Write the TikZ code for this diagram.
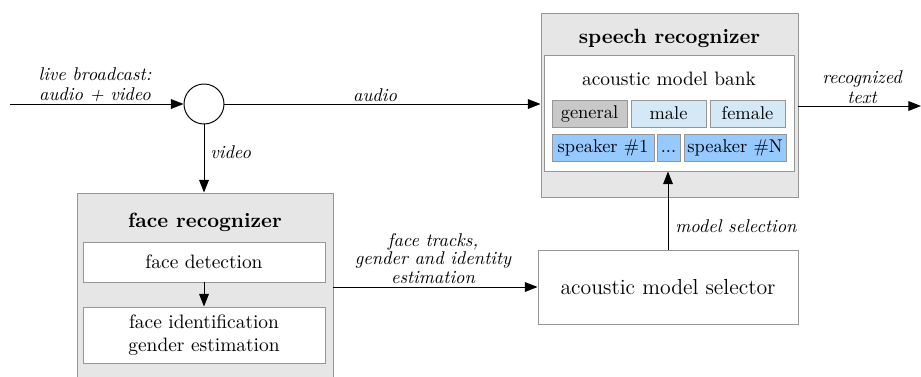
\documentclass[tikz,border=0pt]{standalone}
\usetikzlibrary{arrows.meta}
\definecolor{outerfill}{RGB}{230,230,230}
\definecolor{boxline}{RGB}{150,150,150}
\definecolor{genfill}{RGB}{200,200,200}
\definecolor{lightblue}{RGB}{212,232,245}
\definecolor{spkblue}{RGB}{150,202,255}
\tikzset{
  outerbox/.style={draw=boxline, fill=outerfill, line width=0.5pt, inner sep=0pt},
  innerbox/.style={draw=boxline, fill=white, line width=0.5pt, inner sep=0pt, align=center, font=\fontsize{10}{12}\selectfont},
  modelbox/.style={draw=boxline, line width=0.5pt, inner sep=0pt, font=\fontsize{9.5}{11}\selectfont, minimum height=27*0.515pt},
  titletext/.style={font=\fontsize{10.6}{13}\selectfont\bfseries},
  lbl/.style={font=\fontsize{9.5}{10.3}\selectfont\itshape, align=center, inner sep=0pt},
  conn/.style={-{Triangle[length=6.5pt,width=5pt]}, line width=0.5pt, black},
}
\begin{document}
\begin{tikzpicture}[x=0.515pt, y=-0.515pt]
\useasboundingbox (0,0) rectangle (921,376);
% speech recognizer
\node[outerbox, minimum width=257*0.515pt, minimum height=184*0.515pt] (speech) at (669.5,105) {};
\node[titletext] (speechtitle) at (669.5,38) {speech recognizer};
\node[innerbox, minimum width=250*0.515pt, minimum height=116*0.515pt] (bank) at (669,113) {};
\node[font=\fontsize{10}{12}\selectfont] (banktitle) at (669,79) {acoustic model bank};
\node[modelbox, fill=genfill, minimum width=75*0.515pt] (general) at (589.5,113.5) {general};
\node[modelbox, fill=lightblue, minimum width=75*0.515pt] (male) at (668.5,113.5) {male};
\node[modelbox, fill=lightblue, minimum width=75*0.515pt] (female) at (747.5,113.5) {female};
\node[modelbox, fill=spkblue, minimum width=102*0.515pt] (spk1) at (603,147.5) {speaker \#1};
\node[modelbox, fill=spkblue, minimum width=23*0.515pt] (dots) at (668.5,147.5) {\vphantom{speaker}{.}{.}{.}};
\node[modelbox, fill=spkblue, minimum width=102*0.515pt] (spkN) at (735,147.5) {speaker \#N};
% splitter
\node[draw, circle, line width=0.5pt, minimum size=40*0.515pt, inner sep=0pt] (split) at (204,104) {};
\coordinate (in) at (10,104);
\coordinate (out) at (921,106);
% face recognizer
\node[outerbox, minimum width=256*0.515pt, minimum height=192*0.515pt] (face) at (205,289) {};
\node[titletext] (facetitle) at (205,222) {face recognizer};
\node[innerbox, minimum width=242*0.515pt, minimum height=40*0.515pt] (detect) at (204,262) {face detection};
\node[innerbox, minimum width=242*0.515pt, minimum height=56*0.515pt] (ident) at (204,335) {face identification\\gender estimation};
% selector
\node[draw=boxline, fill=white, line width=0.5pt, inner sep=0pt, minimum width=260*0.515pt, minimum height=74*0.515pt, font=\fontsize{11.2}{13}\selectfont] (sel) at (668,287) {acoustic model selector};
% connectors
\draw[conn] (in) -- (split.west);
\draw[conn] (split.east) -- (split.east -| speech.west);
\draw[conn] (split.south) -- (face.north -| split.south);
\draw[conn] (detect.south) -- (ident.north);
\draw[conn] (face.east |- sel.west) -- (sel.west);
\draw[conn] (sel.north) -- (bank.south -| sel.north);
\draw[conn] (speech.east |- out) -- (out);
% labels
\node[lbl] (lblin) at (95,85) {live broadcast:\\audio + video};
\node[lbl] (lblaudio) at (375,95) {audio};
\node[lbl, anchor=west] (lblvideo) at (210,152) {video};
\node[lbl, anchor=south, font=\fontsize{9.5}{9.5}\selectfont\itshape] (lbltracks) at (433,284) {face tracks,\\gender and identity\\estimation};
\node[lbl, anchor=west] (lblsel) at (675,226) {model selection};
\node[lbl] (lblout) at (862,87) {recognized\\text};
\end{tikzpicture}
\end{document}
